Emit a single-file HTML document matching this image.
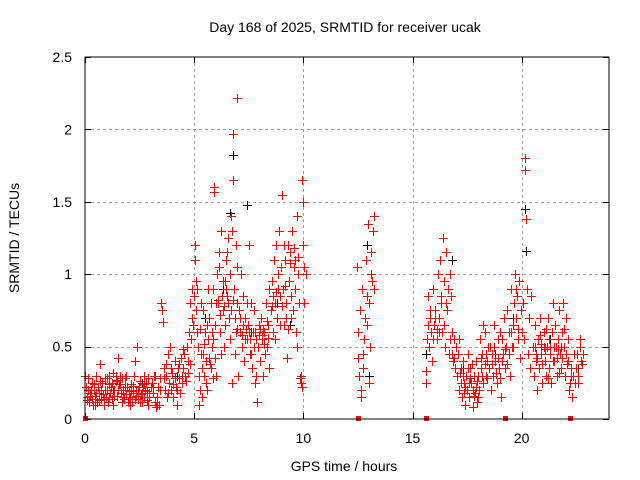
<!DOCTYPE html>
<html><head><meta charset="utf-8"><style>
html,body{margin:0;padding:0;background:#fff;}
svg{display:block;font-family:"Liberation Sans",sans-serif;}
</style></head><body>
<svg id="chart" width="640" height="480" viewBox="0 0 640 480" xmlns="http://www.w3.org/2000/svg">
<rect width="640" height="480" fill="#fff"/>
<text x="345" y="32" font-size="14" text-anchor="middle" fill="#000">Day 168 of 2025, SRMTID for receiver ucak</text>
<text transform="translate(19,238) rotate(-90)" font-size="14" text-anchor="middle" fill="#000">SRMTID / TECUs</text>
<text x="344" y="471" font-size="14" text-anchor="middle" fill="#000">GPS time / hours</text>
<g id="grid"></g>
<g id="ticks"></g>
<g id="marks"></g>
<rect x="85" y="57" width="524" height="362" fill="none" stroke="#000" stroke-width="1"/>
</svg>
<script>
const xTicks = [0, 5, 10, 15, 20];
const yTicks = [0, 0.5, 1, 1.5, 2, 2.5];
const yTickLabels = ["0", "0.5", "1", "1.5", "2", "2.5"];
const gapTimes = [0, 12.5, 15.6, 19.25, 22.2];
const redSeries = [
[0.05,.22],[0.1,.15],[0.15,.28],[0.2,.12],[0.25,.18],[0.3,.25],[0.35,.1],[0.4,.2],[0.45,.16],[0.5,.3],[0.55,.12],[0.6,.22],[0.65,.18],[0.7,.38],[0.75,.14],[0.8,.25],[0.85,.1],[0.9,.2],[0.95,.15],[1.0,.28],[1.05,.12],[1.1,.3],[1.15,.18],[1.2,.22],[1.25,.14],[1.3,.32],[1.35,.2],[1.4,.26],[1.45,.16],[1.5,.42],[1.55,.24],[1.6,.3],[1.65,.18],[1.7,.28],[1.75,.2],[1.8,.14],[1.85,.22],[1.9,.17],[1.95,.12],[2.0,.2],[2.05,.15],[2.1,.24],[2.15,.12],[2.2,.18],[2.25,.3],[2.3,.4],[2.35,.2],[2.4,.5],[2.45,.14],[2.5,.26],[2.55,.17],[2.6,.12],[2.65,.22],[2.7,.15],[2.75,.2],[2.8,.25],[2.85,.13],[2.9,.28],[2.95,.18],[3.0,.22],
[0.02,.3],[0.12,.2],[0.22,.16],[0.32,.14],[0.42,.24],[0.52,.18],[0.62,.13],[0.72,.2],[0.82,.17],[0.92,.28],[1.02,.2],[1.12,.15],[1.22,.25],[1.32,.16],[1.42,.3],[1.52,.2],[1.62,.24],[1.72,.15],[1.82,.28],[1.92,.22],[2.02,.14],[2.12,.19],[2.22,.23],[2.32,.16],[2.42,.2],[2.52,.12],[2.62,.18],[2.72,.24],[2.82,.19],[2.92,.15],
[0.08,.13],[0.28,.2],[0.48,.1],[0.68,.26],[0.88,.14],[1.08,.24],[1.28,.1],[1.48,.27],[1.68,.12],[1.88,.3],[2.08,.1],[2.28,.14],[2.48,.22],[2.68,.3],[2.88,.1],
[3.05,.25],[3.1,.18],[3.15,.3],[3.2,.12],[3.25,.08],[3.3,.15],[3.35,.22],[3.4,.1],[3.45,.28],[3.5,.8],[3.52,.75],[3.55,.67],[3.6,.35],[3.65,.2],[3.7,.3],[3.75,.15],[3.8,.45],[3.85,.25],[3.9,.5],[3.95,.2],[4.0,.32],[4.05,.15],[4.1,.4],[4.15,.22],[4.2,.1],[4.25,.35],[4.3,.28],[4.35,.18],[4.4,.42],[4.45,.3],[3.12,.22],[3.22,.3],[3.32,.1],[3.42,.2],[3.62,.28],[3.72,.38],[3.82,.18],[3.92,.35],[4.02,.24],[4.12,.28],[4.22,.2],[4.32,.38],[4.42,.25],[4.48,.48],
[4.5,.35],[4.55,.45],[4.6,.3],[4.65,.5],[4.7,.4],[4.75,.6],[4.8,.38],[4.85,.55],[4.9,.7],[4.95,.65],[5.0,.85],[5.02,1.1],[5.05,1.2],[5.08,.95],[4.62,.26],[4.72,.32],[4.82,.8],[4.92,.9],
[5.1,.75],[5.15,.9],[5.2,.3],[5.25,.2],[5.3,.8],[5.35,.15],[5.4,.45],[5.45,.3],[5.5,.6],[5.55,.4],[5.6,.2],[5.65,.55],[5.7,.7],[5.75,.35],[5.8,.5],[5.85,.9],[5.9,1.6],[5.92,1.57],[5.95,.42],[6.0,.3],[5.12,.6],[5.22,.1],[5.32,.45],[5.42,.75],[5.52,.25],[5.62,.9],[5.72,.38],[5.82,.6],[5.88,.28],[5.98,.8],
[5.17,.5],[5.27,.62],[5.37,.35],[5.47,.52],[5.57,.65],[5.67,.42],[5.77,.8],[5.87,.55],[5.97,.65],
[6.05,1.0],[6.1,.8],[6.15,1.15],[6.2,.6],[6.25,1.3],[6.3,.75],[6.35,.5],[6.4,.95],[6.45,1.1],[6.5,.85],[6.55,1.25],[6.6,.7],[6.65,1.0],[6.7,1.4],[6.75,1.3],[6.78,1.65],[6.8,1.97],[6.85,.45],[6.9,1.2],[6.95,.8],[7.0,.3],[6.96,2.22],[6.12,1.05],[6.22,.45],[6.32,.95],[6.42,.65],[6.52,1.15],[6.62,.55],[6.72,.25],[6.82,.9],[6.92,.6],[6.98,1.05],
[6.07,.82],[6.17,.72],[6.27,.85],[6.37,.78],[6.47,.9],[6.57,.8],[6.67,.75],[6.77,.82],[6.87,.7],[6.97,.62],
[7.05,.75],[7.1,.6],[7.15,1.0],[7.2,.5],[7.25,.85],[7.3,.4],[7.35,.7],[7.4,.55],[7.45,.65],[7.5,1.2],[7.55,.45],[7.6,.8],[7.65,.35],[7.7,.6],[7.75,.5],[7.8,.25],[7.85,.55],[7.9,.12],[7.95,.65],[8.0,.4],[8.05,.7],[8.1,.55],[8.15,.3],[8.2,.6],[8.25,.45],[8.3,.8],[8.35,.5],[8.4,.65],[8.45,.35],[7.12,.7],[7.22,.65],[7.32,.55],[7.42,.8],[7.52,.6],[7.62,.45],[7.72,.75],[7.82,.3],[7.92,.5],[8.02,.62],[8.12,.58],[8.22,.52],[8.32,.68],[8.42,.9],
[7.17,.58],[7.37,.62],[7.57,.55],[7.77,.6],[7.97,.58],[8.17,.62],[8.37,.56],
[8.5,.75],[8.55,.95],[8.6,.6],[8.65,1.1],[8.7,.8],[8.75,1.2],[8.8,.7],[8.85,1.0],[8.9,1.3],[8.95,.85],[9.0,1.55],[9.05,.9],[9.1,.65],[9.15,1.1],[9.2,.8],[9.25,.42],[9.3,1.2],[9.35,.95],[9.4,1.15],[9.45,.7],[9.5,1.3],[9.55,1.05],[9.6,.9],[9.65,.6],[9.7,1.4],[9.75,1.0],[9.8,.8],[9.85,.28],[9.9,.25],[9.95,1.65],[10.0,1.2],[10.05,.8],[10.1,1.0],[8.62,.85],[8.72,.55],[8.82,.9],[8.92,.65],[9.02,.78],[9.12,1.2],[9.22,.7],[9.32,.62],[9.42,.85],[9.52,.75],[9.62,1.1],[9.72,.5],[9.88,.3],[9.92,.22],[9.98,1.5],
[8.57,.78],[8.77,.88],[8.97,1.05],[9.17,.92],[9.37,1.08],[9.57,1.18],[9.77,1.12],[10.02,1.05],
[12.45,1.05],[12.5,.6],[12.55,.3],[12.6,.75],[12.65,.15],[12.7,.9],[12.75,.45],[12.8,.55],[12.85,1.1],[12.9,.65],[12.95,1.35],[13.0,.8],[13.05,.5],[13.1,1.0],[13.15,.95],[13.2,1.3],[13.25,1.4],[12.52,.42],[12.62,.2],[12.72,.35],[12.82,.7],[12.92,.85],[13.02,.25],[13.12,1.15],[13.22,.9],
[15.6,.25],[15.65,.55],[15.7,.85],[15.75,.5],[15.8,.7],[15.85,.6],[15.9,.4],[15.95,.9],[16.0,.65],[16.05,.75],[16.1,.55],[16.15,1.0],[16.2,.7],[16.25,1.1],[16.3,.8],[16.35,.6],[16.4,1.25],[16.45,.95],[16.5,.5],[16.55,1.15],[16.6,.75],[16.65,.45],[16.7,1.0],[16.75,.85],[16.8,.6],[16.85,.4],[16.9,.55],[16.95,.35],[17.0,.5],[15.62,.33],[15.72,.65],[15.82,.75],[15.92,.55],[16.02,.7],[16.12,.62],[16.22,.6],[16.32,.85],[16.42,.65],[16.52,.8],[16.62,.9],[16.72,.55],[16.82,.45],[16.92,.42],
[17.05,.3],[17.1,.45],[17.15,.2],[17.2,.35],[17.25,.15],[17.3,.4],[17.35,.25],[17.4,.1],[17.45,.3],[17.5,.2],[17.55,.45],[17.6,.15],[17.65,.35],[17.7,.25],[17.75,.08],[17.8,.3],[17.85,.18],[17.9,.4],[17.95,.12],[18.0,.3],[18.05,.2],[18.1,.55],[18.15,.35],[18.2,.45],[18.25,.25],[18.3,.6],[18.35,.3],[18.4,.4],[18.45,.5],[17.12,.55],[17.22,.25],[17.32,.3],[17.42,.22],[17.52,.35],[17.62,.28],[17.72,.38],[17.82,.16],[17.92,.22],[18.02,.15],[18.12,.42],[18.22,.65],[18.32,.38],[18.42,.28],
[17.17,.32],[17.37,.18],[17.57,.25],[17.77,.2],[17.97,.26],[18.17,.3],[18.37,.45],
[18.5,.35],[18.55,.5],[18.6,.2],[18.65,.45],[18.7,.3],[18.75,.65],[18.8,.4],[18.85,.25],[18.9,.55],[18.95,.35],[19.0,.6],[19.05,.15],[19.1,.4],[19.15,.45],[19.2,.7],[19.25,.35],[19.3,.5],[19.35,.75],[19.4,.6],[19.45,.3],[19.5,.9],[19.55,.5],[19.6,.65],[19.65,.8],[19.7,1.0],[19.75,.7],[19.8,.85],[19.85,.55],[19.9,.95],[19.95,.75],[20.0,.6],[18.62,.38],[18.72,.5],[18.82,.32],[18.92,.42],[19.02,.28],[19.12,.55],[19.22,.48],[19.32,.38],[19.42,.45],[19.52,.6],[19.62,.5],[19.72,.9],[19.82,.62],[19.92,.42],
[20.05,.8],[20.1,.55],[20.15,1.8],[20.17,1.72],[20.2,1.38],[20.25,.9],[20.3,.45],[20.35,.7],[20.4,.35],[20.45,.85],[20.5,.5],
[20.55,.3],[20.6,.65],[20.65,.4],[20.7,.2],[20.75,.55],[20.8,.35],[20.85,.7],[20.9,.45],[20.95,.25],[21.0,.6],[21.05,.4],[21.1,.3],[21.15,.5],[21.2,.7],[21.25,.35],[21.3,.45],[21.35,.25],[21.4,.6],[21.45,.8],[21.5,.4],[21.55,.5],[21.6,.3],[21.65,.55],[21.7,.75],[21.75,.45],[21.8,.35],[21.85,.6],[21.9,.8],[21.95,.5],[22.0,.3],[22.05,.7],[22.1,.4],[22.15,.2],[22.2,.25],[22.25,.35],[22.3,.15],[22.35,.3],[22.4,.45],[22.45,.25],[20.62,.5],[20.72,.42],[20.82,.58],[20.92,.38],[21.02,.5],[21.12,.62],[21.22,.28],[21.32,.5],[21.42,.4],[21.52,.65],[21.62,.42],[21.72,.32],[21.82,.5],[21.92,.62],[22.02,.45],[22.12,.55],
[20.67,.45],[20.87,.52],[21.07,.48],[21.27,.55],[21.47,.5],[21.67,.48],[21.87,.42],[22.07,.38],[22.27,.3],
[22.5,.35],[22.55,.45],[22.6,.3],[22.65,.55],[22.7,.4],[22.75,.38],[22.8,.45],[22.58,.25],[22.68,.5]
];
const blackSeries = [
[6.8,1.82],[6.65,1.42],[7.4,1.48],[20.15,1.45],[20.2,1.16],[16.4,1.25],[16.8,1.1],[13.0,0.3],[5.0,0.85],[15.6,0.45],
[1.3,.2],[2.6,.25],[4.2,.3],[5.5,.7],[6.3,.9],[7.6,.6],[8.8,.8],[9.4,.65],[12.9,1.2],[17.3,.35],[18.8,.45],[19.6,.7],[21.3,.55],[22.6,.35]
];
const X0 = 85, X1 = 609, Y0 = 419, Y1 = 57, XMAX = 24, YMAX = 2.5;
function sx(t){ return X0 + (X1 - X0) * t / XMAX; }
function sy(v){ return Y0 - (Y0 - Y1) * v / YMAX; }
const NS = 'http://www.w3.org/2000/svg';
const grid = document.getElementById('grid');
const ticks = document.getElementById('ticks');
const marks = document.getElementById('marks');
function mk(tag, attrs, parent){ const e = document.createElementNS(NS, tag); for (const k in attrs) e.setAttribute(k, attrs[k]); parent.appendChild(e); return e; }
xTicks.forEach(t => {
  const x = Math.round(sx(t)) + 0.5;
  if (t > 0) {
    const g = mk('line', {x1:x, x2:x, y1:Y1, y2:Y0, stroke:'#a0a0a0', 'stroke-dasharray':'3,3'}, grid);
    
    
  }
  const tk = mk('path', {d:`M${x},${Y0}v-6M${x},${Y1}v6`, stroke:'#000'}, ticks);
  
  
  const lb = mk('text', {x:sx(t), y:Y0 + 24, 'font-size':14, 'text-anchor':'middle'}, ticks);
  lb.textContent = String(t);
  
  
});
yTicks.forEach((v, i) => {
  const y = Math.round(sy(v)) + 0.5;
  if (v > 0 && v < YMAX) {
    const g = mk('line', {x1:X0, x2:X1, y1:y, y2:y, stroke:'#a0a0a0', 'stroke-dasharray':'3,3'}, grid);
    
    
  }
  const tk = mk('path', {d:`M${X0},${y}h6M${X1},${y}h-6`, stroke:'#000'}, ticks);
  
  
  const lb = mk('text', {x:X0 - 13, y:sy(v) + 5, 'font-size':14, 'text-anchor':'end'}, ticks);
  lb.textContent = yTickLabels[i];
  
  
});
function plus(t, v, color, name){
  const x = Math.round(sx(t)) + 0.5, y = Math.round(sy(v)) + 0.5;
  const p = mk('path', {d:`M${x-4.5},${y}h9M${x},${y-4.5}v9`, stroke:color, 'stroke-width':1}, marks);
  
  
}
blackSeries.forEach(d => plus(d[0], d[1], '#000', 'black-point'));
redSeries.forEach(d => plus(d[0], d[1], '#ff0000', 'red-point'));
gapTimes.forEach(t => {
  const r = mk('rect', {x:Math.round(sx(t)) - 2, y:Y0 - 3, width:5, height:5, fill:'#ff0000'}, marks);
  
  
});
</script>
</body></html>
